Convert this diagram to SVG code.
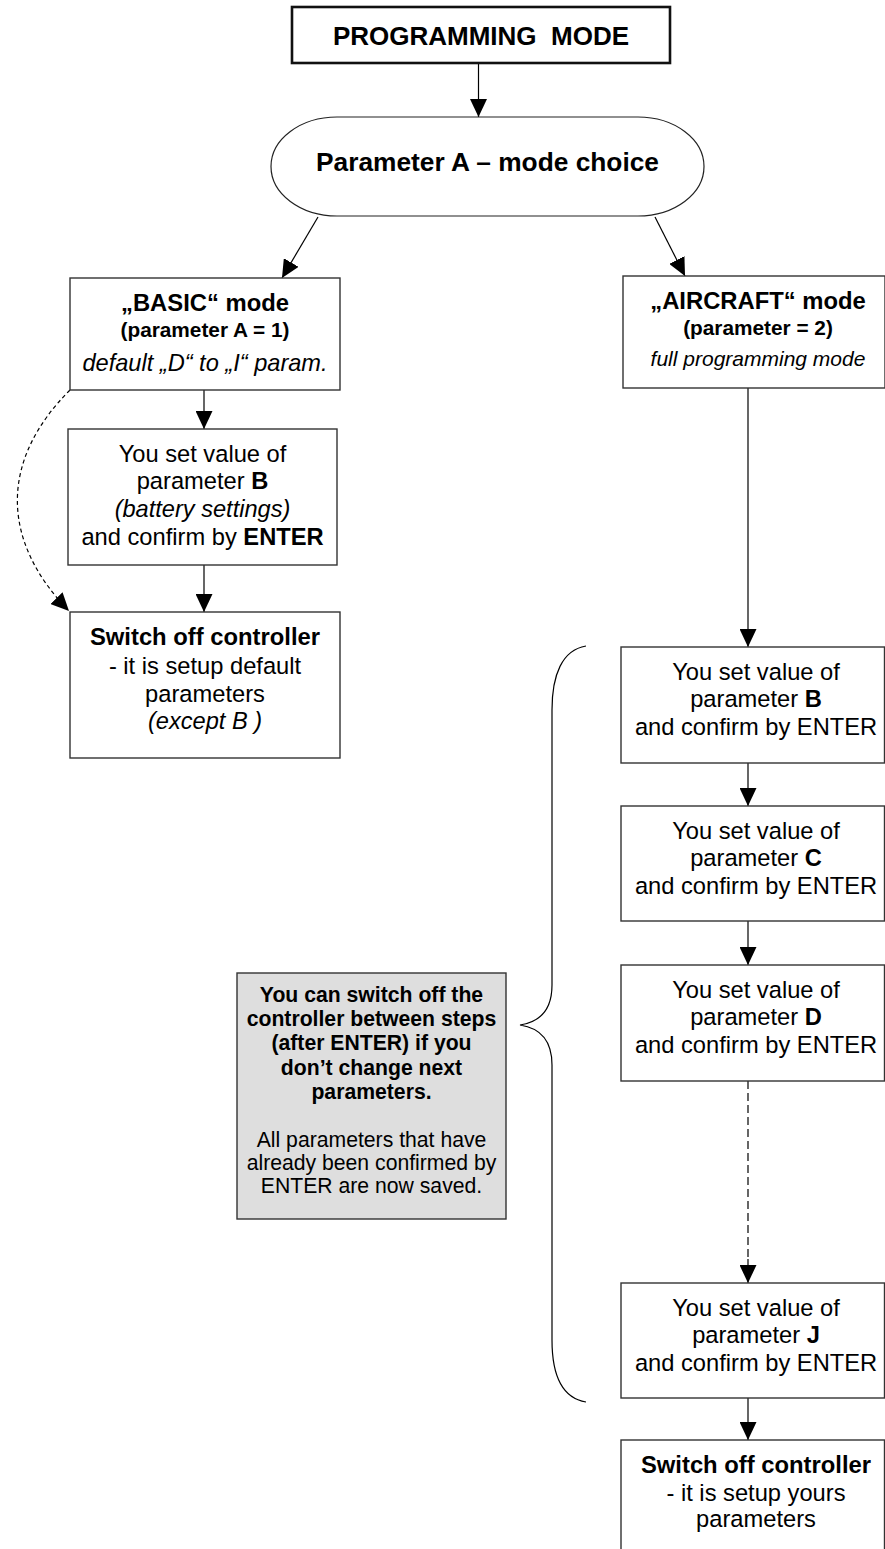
<svg xmlns="http://www.w3.org/2000/svg" width="885" height="1549" viewBox="0 0 885 1549">
<style>
text{font-family:"Liberation Sans",Arial,sans-serif;fill:#000;text-anchor:middle}
.box{fill:#fff;stroke:#333;stroke-width:1.4}
.ln{fill:none;stroke:#000;stroke-width:1.2}
.r{font-size:23.7px}
.b{font-size:23.8px;font-weight:bold}
.b2{font-size:20.8px;font-weight:bold}
.i{font-size:23.6px;font-style:italic}
.i2{font-size:21px;font-style:italic}
.g{font-size:21.2px;font-weight:bold}
.gr{font-size:21.2px}
</style>
<defs>
<marker id="ah" markerUnits="userSpaceOnUse" markerWidth="18" markerHeight="17" refX="18" refY="8.5" orient="auto" viewBox="0 0 18 17">
<path d="M0,0 L18,8.5 L0,17 z" fill="#000"/>
</marker>
</defs>

<g id="connectors">
<line class="ln" x1="478.5" y1="63" x2="478.5" y2="117" marker-end="url(#ah)"/>
<line class="ln" x1="318" y1="217" x2="282" y2="278" marker-end="url(#ah)"/>
<line class="ln" x1="655" y1="217" x2="685" y2="276" marker-end="url(#ah)"/>
<line class="ln" x1="204" y1="390" x2="204" y2="429" marker-end="url(#ah)"/>
<line class="ln" x1="204" y1="565" x2="204" y2="612" marker-end="url(#ah)"/>
<path class="ln" d="M70,390 C0,460 0,540 69,611" stroke-dasharray="4 3" marker-end="url(#ah)"/>
<line class="ln" x1="748" y1="388" x2="748" y2="647" marker-end="url(#ah)"/>
<line class="ln" x1="748" y1="763" x2="748" y2="806" marker-end="url(#ah)"/>
<line class="ln" x1="748" y1="921" x2="748" y2="965" marker-end="url(#ah)"/>
<line class="ln" x1="748" y1="1081" x2="748" y2="1260" stroke-width="1.5" stroke-dasharray="8 4"/>
<line class="ln" x1="748" y1="1259" x2="748" y2="1283" marker-end="url(#ah)"/>
<line class="ln" x1="748" y1="1398" x2="748" y2="1440" marker-end="url(#ah)"/>
</g>

<g id="programming-mode">
<rect x="292" y="7" width="378" height="56" fill="#fff" stroke="#111" stroke-width="2.6"/>
<text x="481" y="45" style="font-size:26px;font-weight:bold">PROGRAMMING&#160;&#160;MODE</text>
</g>

<g id="parameter-a">
<rect x="271" y="117" width="433" height="99" rx="66" ry="49.5" fill="#fff" stroke="#222" stroke-width="1.2"/>
<text x="487.5" y="171" style="font-size:26.3px;font-weight:bold">Parameter A – mode choice</text>
</g>

<g id="basic-mode">
<rect class="box" x="70" y="278" width="270" height="112"/>
<text class="b" x="205" y="311">„BASIC“ mode</text>
<text class="b2" x="205" y="337">(parameter A = 1)</text>
<text class="i" x="205" y="371">default „D“ to „I“ param.</text>
</g>

<g id="basic-set-b">
<rect class="box" x="68" y="429" width="269" height="136"/>
<text class="r" x="202.5" y="462">You set value of</text>
<text class="r" x="202.5" y="489">parameter <tspan font-weight="bold">B</tspan></text>
<text class="i" x="202.5" y="517">(battery settings)</text>
<text class="r" x="202.5" y="545">and confirm by <tspan font-weight="bold">ENTER</tspan></text>
</g>

<g id="basic-switch-off">
<rect class="box" x="70" y="612" width="270" height="146"/>
<text class="b" x="205" y="645">Switch off controller</text>
<text class="r" x="205" y="674">- it is setup default</text>
<text class="r" x="205" y="702">parameters</text>
<text class="i" x="205" y="729">(except B )</text>
</g>

<g id="aircraft-mode">
<rect class="box" x="623" y="276" width="262" height="112"/>
<text class="b" x="758" y="309">„AIRCRAFT“ mode</text>
<text class="b2" x="758" y="335">(parameter = 2)</text>
<text class="i2" x="758" y="366">full programming mode</text>
</g>

<g id="set-b">
<rect class="box" x="621" y="647" width="263.5" height="116"/>
<text class="r" x="756" y="680">You set value of</text>
<text class="r" x="756" y="707">parameter <tspan font-weight="bold">B</tspan></text>
<text class="r" x="756" y="735">and confirm by ENTER</text>
</g>

<g id="set-c">
<rect class="box" x="621" y="806" width="263.5" height="115"/>
<text class="r" x="756" y="839">You set value of</text>
<text class="r" x="756" y="866">parameter <tspan font-weight="bold">C</tspan></text>
<text class="r" x="756" y="894">and confirm by ENTER</text>
</g>

<g id="set-d">
<rect class="box" x="621" y="965" width="263.5" height="116"/>
<text class="r" x="756" y="998">You set value of</text>
<text class="r" x="756" y="1025">parameter <tspan font-weight="bold">D</tspan></text>
<text class="r" x="756" y="1053">and confirm by ENTER</text>
</g>

<g id="set-j">
<rect class="box" x="621" y="1283" width="263.5" height="115"/>
<text class="r" x="756" y="1316">You set value of</text>
<text class="r" x="756" y="1343">parameter <tspan font-weight="bold">J</tspan></text>
<text class="r" x="756" y="1371">and confirm by ENTER</text>
</g>

<g id="aircraft-switch-off">
<rect class="box" x="621" y="1440" width="263.5" height="120"/>
<text class="b" x="756" y="1473">Switch off controller</text>
<text class="r" x="756" y="1501">- it is setup yours</text>
<text class="r" x="756" y="1527">parameters</text>
</g>

<g id="note">
<rect x="237" y="973" width="269" height="246" fill="#dedede" stroke="#333" stroke-width="1.4"/>
<text class="g" x="371.5" y="1002">You can switch off the</text>
<text class="g" x="371.5" y="1026">controller between steps</text>
<text class="g" x="371.5" y="1050">(after ENTER) if you</text>
<text class="g" x="371.5" y="1075">don’t change next</text>
<text class="g" x="371.5" y="1099">parameters.</text>
<text class="gr" x="371.5" y="1147">All parameters that have</text>
<text class="gr" x="371.5" y="1170">already been confirmed by</text>
<text class="gr" x="371.5" y="1193">ENTER are now saved.</text>
</g>

<g id="brace">
<path class="ln" d="M586,646 C562,650 552,675 552,710 L552,985 C552,1010 540,1022 520,1025 C540,1028 552,1040 552,1065 L552,1340 C552,1375 562,1398 586,1402"/>
</g>
</svg>
